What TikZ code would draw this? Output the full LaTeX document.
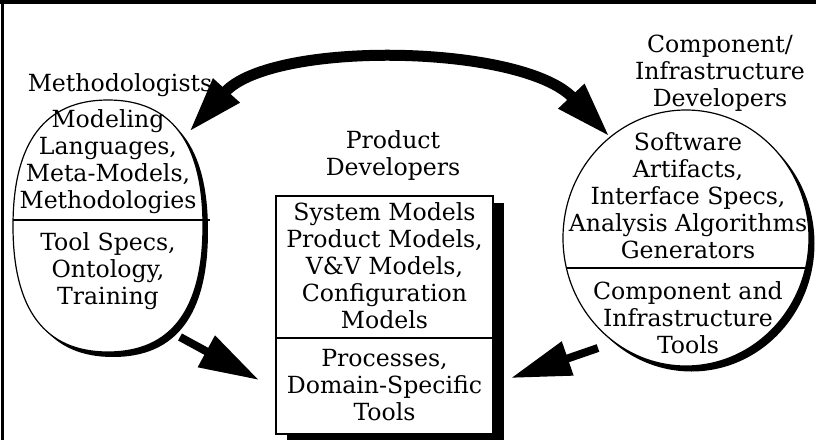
\documentclass[tikz,border=0pt]{standalone}
\usepackage{fontspec}
\setmainfont{DejaVu Serif}
\usepackage{tikz}
\usetikzlibrary{arrows.meta,shapes.geometric,shadows}

% egg-like oval round the origin (half axes 95 x 126)
\newcommand{\methoval}{(95,0) .. controls (95,-84) and (63,-126) .. (0,-126)
  .. controls (-63,-126) and (-95,-84) .. (-95,0)
  .. controls (-95,84) and (-63,126) .. (0,126)
  .. controls (63,126) and (95,84) .. (95,0) -- cycle}

\tikzset{
  txt/.style={align=center,inner sep=0pt,font=\fontsize{11.8}{13.5}\selectfont},
  solidshadow/.style={drop shadow={shadow xshift=#1,shadow yshift=-#1,fill=black,opacity=1}},
  divider/.style={line width=1pt},
  fathead/.tip={Triangle[length=28pt,width=16.5pt]},
  fatarrow/.style={line width=5.5pt,fathead-fathead},
  thinarrow/.style={line width=4pt,-{Triangle[length=30pt,width=17pt]}}
}

\begin{document}
\begin{tikzpicture}[x=0.5pt,y=-0.5pt]
\useasboundingbox (0,0) rectangle (816,440);
% frame
\draw[line width=2pt] (0,2) -- (816,2);
\draw[line width=1.5pt] (2,0) -- (2,440);

% methodologists
\coordinate (meth) at (108,226);
\fill[shift={(meth)},xshift=2.5pt,yshift=-2.5pt] \methoval;
\filldraw[shift={(meth)},fill=white,line width=0.6pt] \methoval;
\draw[divider] ([shift={(-95,-6)}]meth) -- ([shift={(102,-6)}]meth);
\node[txt] (methlabel) at (120,85) {Methodologists};
\node[txt] (methtop) at (108,162) {Modeling\\Languages,\\Meta-Models,\\Methodologies};
\node[txt] (methbot) at (108,271) {Tool Specs,\\Ontology,\\Training};

% component developers
\node[ellipse,draw,fill=white,line width=0.6pt,inner sep=0pt,
  minimum width=123pt,minimum height=128pt,solidshadow=2.75pt] (comp) at (686,238) {};
\draw[divider] (comp.194) -- (comp.346);
\node[txt] (complabel) at (720,73) {Component/\\Infrastructure\\Developers};
\node[txt] (comptop) at (688,196) {Software\\Artifacts,\\Interface Specs,\\Analysis Algorithms\\Generators};
\node[txt] (compbot) at (688,318) {Component and\\Infrastructure\\Tools};

% product developers
\node[draw,fill=white,line width=1pt,inner sep=0pt,
  minimum width=108.5pt,minimum height=119pt,
  drop shadow={shadow xshift=5.25pt,shadow yshift=-3.75pt,fill=black,opacity=1}] (prod) at (384.5,314.5) {};
\draw[divider] (prod.west |- 0,338) -- (prod.east |- 0,338);
\node[txt] (prodlabel) at (393,155) {Product\\Developers};
\node[txt] (prodtop) at (384.5,266) {System Models\\Product Models,\\V\&V Models,\\Configuration\\Models};
\node[txt] (prodbot) at (384.5,385) {Processes,\\Domain-Specific\\Tools};

% exchange between methodologists and component developers
\draw[fatarrow] ([shift={(81,-94)}]meth) .. controls (272,40) and (522,44) .. (comp.127);
% both feed the product developers
\draw[thinarrow] ([shift={(72,111)}]meth) -- ([shift={(-16,65.5)}]prod.west);
\draw[thinarrow] ([shift={(-88,110)}]comp.center) -- ([shift={(17,63.5)}]prod.east);
\end{tikzpicture}
\end{document}
